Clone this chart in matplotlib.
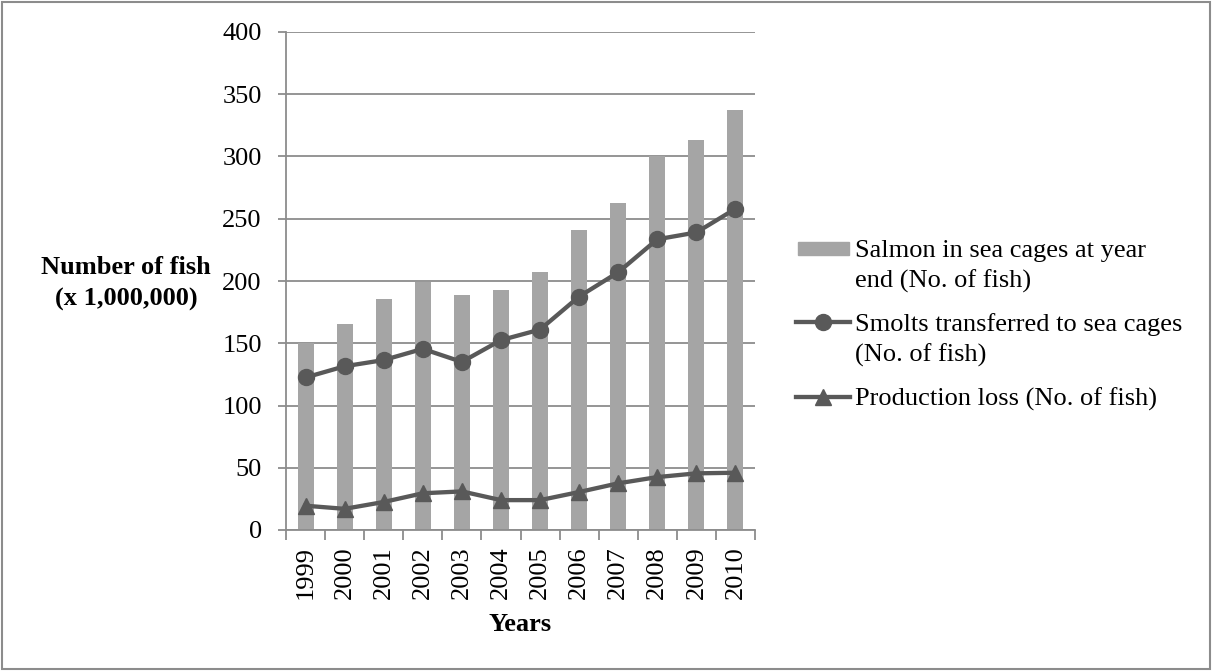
import matplotlib.pyplot as plt
from matplotlib.lines import Line2D
from matplotlib.patches import Rectangle
import numpy as np

# --- data (millions of fish) ---
years = ["1999", "2000", "2001", "2002", "2003", "2004",
         "2005", "2006", "2007", "2008", "2009", "2010"]
salmon_in_cages = [150, 165.5, 185.5, 199.5, 188.5, 193, 207, 241, 263, 300, 313, 337]
smolts_transferred = [122.5, 131.5, 136.5, 145.5, 135, 152.5, 161, 187.5, 207, 233.5, 239, 258]
production_loss = [19.5, 17, 22.5, 29.5, 31, 24, 24, 30.5, 37.5, 42.5, 45.5, 46]
series_names = ["Salmon in sea cages at year\nend (No. of fish)",
                "Smolts transferred to sea cages\n(No. of fish)",
                "Production loss (No. of fish)"]
y_ticks = [0, 50, 100, 150, 200, 250, 300, 350, 400]

W, H = 1212, 671
BAR = "#a5a5a5"
LINE = "#595959"
GRID = "#8c8c8c"
FS = 19

plt.rcParams["font.family"] = ["Liberation Serif", "DejaVu Serif"]

fig = plt.figure(figsize=(W / 100, H / 100), dpi=100)
ax = fig.add_axes([286 / W, 1 - 530 / H, (755 - 286) / W, (530 - 32) / H])

x = np.arange(len(years))
ax.bar(x, salmon_in_cages, width=0.41, color=BAR, zorder=2)
ax.plot(x, smolts_transferred, color=LINE, lw=3.1, marker="o", ms=11.5, zorder=3)
ax.plot(x, production_loss, color=LINE, lw=3.1, marker="^", ms=12, zorder=3)

ax.set_xlim(-0.5, len(years) - 0.5)
ax.set_ylim(0, 400)
ax.set_yticks(y_ticks)
ax.set_yticklabels([str(v) for v in y_ticks], fontsize=FS)
ax.yaxis.grid(True, color=GRID, lw=1.3, zorder=0)
ax.set_axisbelow(True)

ax.set_xticks(x)
ax.set_xticklabels(years, rotation=90, fontsize=FS)
ax.set_xticks(np.arange(-0.5, len(years)), minor=True)
ax.tick_params(axis="x", which="major", length=0, pad=11.5)
ax.tick_params(axis="x", which="minor", length=7, width=1.3, color=GRID)
ax.tick_params(axis="y", length=6, width=1.3, color=GRID, pad=11.5)

for s in ["top", "right"]:
    ax.spines[s].set_visible(False)
for s in ["left", "bottom"]:
    ax.spines[s].set_color(GRID)
    ax.spines[s].set_linewidth(1.3)

ax.set_xlabel("Years", fontsize=FS, fontweight="bold", labelpad=10)
ax.set_ylabel("Number of fish\n(x 1,000,000)", fontsize=FS, fontweight="bold",
              rotation=0, ha="center", va="center", linespacing=1.45)
ax.yaxis.set_label_coords((126 - 286) / (755 - 286), 0.495)


# --- legend drawn by hand so the key sits on the first text line ---
def fx(px):
    return px / W


def fy(py):
    return 1 - py / H


entry_tops = [248, 322, 397]
line_gap = 30.5
for i, (name, top) in enumerate(zip(series_names, entry_tops)):
    for j, part in enumerate(name.split("\n")):
        fig.text(fx(855), fy(top + j * line_gap), part, fontsize=FS,
                 ha="left", va="center_baseline")
    if i == 0:
        fig.add_artist(Rectangle((fx(798), fy(top + 6.5)), fx(51), 12.5 / H,
                                 transform=fig.transFigure, color=BAR))
    else:
        mk = "o" if i == 1 else "^"
        fig.add_artist(Line2D([fx(796), fx(850)], [fy(top), fy(top)],
                              transform=fig.transFigure, color=LINE, lw=3.1))
        fig.add_artist(Line2D([fx(823)], [fy(top)], transform=fig.transFigure,
                              color=LINE, marker=mk, ms=11.5 if i == 1 else 12))

# outer frame
fig.add_artist(Rectangle((fx(2), fy(669)), fx(1208), 667 / H, transform=fig.transFigure,
                         fill=False, edgecolor=GRID, lw=1.5))

fig.savefig("out.png", dpi=100)
